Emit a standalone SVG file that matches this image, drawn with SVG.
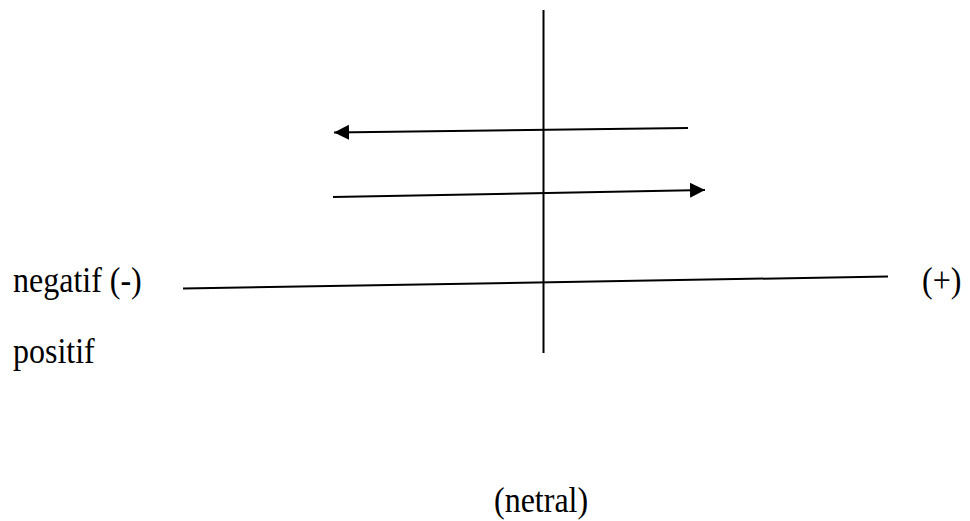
<svg xmlns="http://www.w3.org/2000/svg" width="970" height="521" viewBox="0 0 970 521">
<style>
.ln{stroke:#000;stroke-width:2;fill:none}
.t{font-family:"Liberation Serif","Times New Roman",serif;font-size:32px;fill:#000}
</style>
<defs>
<marker id="ah" markerUnits="userSpaceOnUse" markerWidth="16" markerHeight="16" refX="15" refY="7.5" orient="auto">
<path d="M0,0 L15,7.5 L0,15 Z" fill="#000"/>
</marker>
</defs>
<rect width="970" height="521" fill="#fff"/>
<g id="connectors">
<line class="ln" x1="543.5" y1="10" x2="543.5" y2="353"/>
<line class="ln" x1="688" y1="128" x2="334" y2="132.5" marker-end="url(#ah)"/>
<line class="ln" x1="333" y1="197" x2="705" y2="190" marker-end="url(#ah)"/>
<line class="ln" x1="183" y1="288.5" x2="888" y2="276.5"/>
</g>
<g id="label-negatif"><text class="t" transform="translate(13,292) scale(1,1.1)">negatif (-)</text></g>
<g id="label-plus"><text class="t" transform="translate(922,292) scale(1,1.1)">(+)</text></g>
<g id="label-positif"><text class="t" transform="translate(13,363) scale(1,1.1)">positif</text></g>
<g id="label-netral"><text class="t" transform="translate(494,512) scale(1,1.1)">(netral)</text></g>
</svg>
